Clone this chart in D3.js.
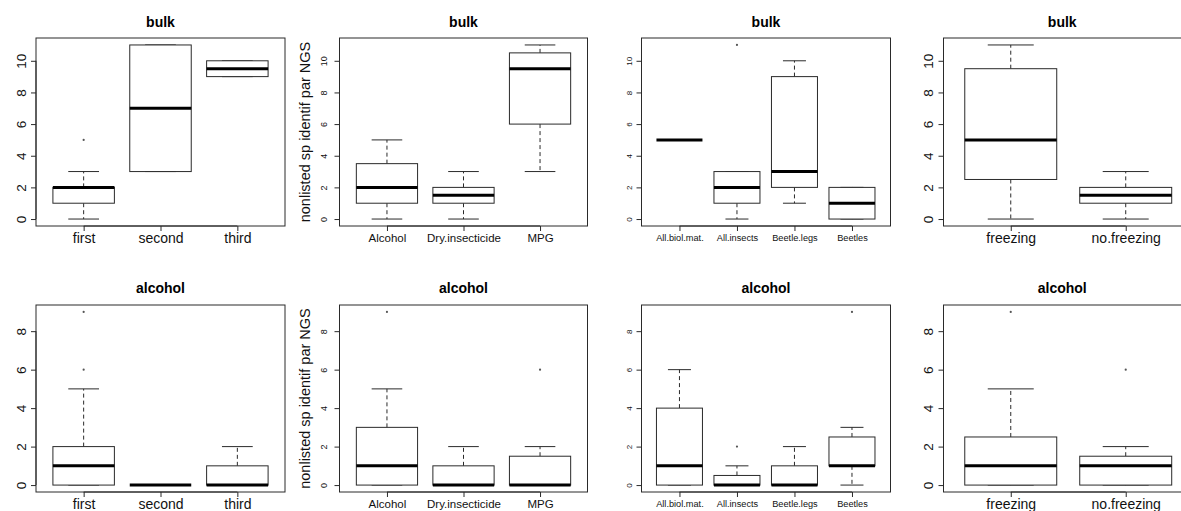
<!DOCTYPE html>
<html>
<head>
<meta charset="utf-8">
<script src="https://cdn.jsdelivr.net/npm/d3@7"></script>
<style>
  html, body { margin: 0; padding: 0; background: #fff; }
  svg { display: block; font-family: "Liberation Sans", Arial, sans-serif; }
</style>
</head>
<body>
<svg id="chart" width="1181" height="511"></svg>
<script>
// ---------------- data ----------------
const rowTitles = ["bulk", "alcohol"];
const yLabel = "nonlisted sp identif par NGS";

const catsRound  = ["first", "second", "third"];
const catsFix    = ["Alcohol", "Dry.insecticide", "MPG"];
const catsSample = ["All.biol.mat.", "All.insects", "Beetle.legs", "Beetles"];
const catsFreeze = ["freezing", "no.freezing"];

const yTicksBulk    = [0, 2, 4, 6, 8, 10];
const yTicksAlcohol = [0, 2, 4, 6, 8];

// five-number summaries: [lower whisker, Q1, median, Q3, upper whisker]
const bulkRound      = [[0, 1, 2, 2, 3], [3, 3, 7, 11, 11], [9, 9, 9.5, 10, 10]];
const bulkRoundOut   = [[5], [], []];
const bulkFix        = [[0, 1, 2, 3.5, 5], [0, 1, 1.5, 2, 3], [3, 6, 9.5, 10.5, 11]];
const bulkFixOut     = [[], [], []];
const bulkSample     = [[5, 5, 5, 5, 5], [0, 1, 2, 3, 3], [1, 2, 3, 9, 10], [0, 0, 1, 2, 2]];
const bulkSampleOut  = [[], [11], [], []];
const bulkFreeze     = [[0, 2.5, 5, 9.5, 11], [0, 1, 1.5, 2, 3]];
const bulkFreezeOut  = [[], []];

const alcRound       = [[0, 0, 1, 2, 5], [0, 0, 0, 0, 0], [0, 0, 0, 1, 2]];
const alcRoundOut    = [[6, 9], [], []];
const alcFix         = [[0, 0, 1, 3, 5], [0, 0, 0, 1, 2], [0, 0, 0, 1.5, 2]];
const alcFixOut      = [[9], [], [6]];
const alcSample      = [[0, 0, 1, 4, 6], [0, 0, 0, 0.5, 1], [0, 0, 0, 1, 2], [0, 1, 1, 2.5, 3]];
const alcSampleOut   = [[], [2], [], [9]];
const alcFreeze      = [[0, 0, 1, 2.5, 5], [0, 0, 1, 1.5, 2]];
const alcFreezeOut   = [[9], [6]];

// ---------------- layout ----------------
const colLayout = [
  { left: 36,    right: 285,   padL: 0.62, padR: 0.62, tickFs: 13.5, catFs: 14,   tickOff: -14.5, ylab: false },
  { left: 339.5, right: 587.5, padL: 0.62, padR: 0.62, tickFs: 9,    catFs: 11.5, tickOff: -16,   ylab: true  },
  { left: 641.5, right: 890.5, padL: 0.66, padR: 0.67, tickFs: 8,    catFs: 9.2,  tickOff: -12,   ylab: false },
  { left: 943.5, right: 1197,  padL: 0.585,padR: 0.62, tickFs: 13.5, catFs: 14,   tickOff: -15,   ylab: false, titleRight: 1181 }
];
const rowLayout = [
  { top: 38,  bottom: 226, titleY: 27,  labY: 237.5, ticks: yTicksBulk },
  { top: 305, bottom: 492, titleY: 293, labY: 503.5, ticks: yTicksAlcohol }
];

const panels = [
  [ [catsRound, bulkRound, bulkRoundOut], [catsFix, bulkFix, bulkFixOut],
    [catsSample, bulkSample, bulkSampleOut], [catsFreeze, bulkFreeze, bulkFreezeOut] ],
  [ [catsRound, alcRound, alcRoundOut], [catsFix, alcFix, alcFixOut],
    [catsSample, alcSample, alcSampleOut], [catsFreeze, alcFreeze, alcFreezeOut] ]
];

const svg = d3.select("#chart");
const lineCol = "#2a2a2a";

panels.forEach((row, ri) => {
  const R = rowLayout[ri];
  // y range shared by row: data range extended by 4%
  let allVals = [];
  row.forEach(([cats, stats, outs]) => {
    stats.forEach(s => allVals.push(...s));
    outs.forEach(o => allVals.push(...o));
  });
  const lo = d3.min(allVals), hi = d3.max(allVals);
  const ext = (hi - lo) * 0.04;

  row.forEach(([cats, stats, outs], ci) => {
    const C = colLayout[ci];
    const n = cats.length;
    const x = d3.scaleLinear().domain([1 - C.padL, n + C.padR]).range([C.left, C.right]);
    const y = d3.scaleLinear().domain([lo - ext, hi + ext]).range([R.bottom, R.top]);
    const g = svg.append("g");
    const bw = (x(2) - x(1)) * 0.8;

    // y axis
    const ya = g.append("g")
      .attr("transform", `translate(${C.left},0)`)
      .call(d3.axisLeft(y).tickValues(R.ticks).tickSize(5).tickSizeOuter(0).tickFormat(d3.format("d")));
    ya.select(".domain").attr("stroke", lineCol)
      .attr("d", `M0,${y(R.ticks[0])}V${y(R.ticks[R.ticks.length - 1])}`);
    ya.selectAll(".tick line").attr("stroke", lineCol);
    ya.selectAll(".tick text")
      .attr("x", null).attr("y", null)
      .attr("text-anchor", "middle")
      .attr("dy", "0.36em")
      .attr("transform", `translate(${C.tickOff},0) rotate(-90)`)
      .attr("font-size", C.tickFs)
      .attr("font-family", "Liberation Sans, Arial, sans-serif")
      .attr("fill", "#111");

    // x axis
    const xa = g.append("g")
      .attr("transform", `translate(0,${R.bottom})`)
      .call(d3.axisBottom(x).tickValues(d3.range(1, n + 1)).tickSize(5).tickSizeOuter(0)
        .tickFormat(d => cats[d - 1]));
    xa.select(".domain").attr("stroke", lineCol)
      .attr("d", `M${x(1)},0H${x(n)}`);
    xa.selectAll(".tick line").attr("stroke", lineCol);
    xa.selectAll(".tick text")
      .attr("y", R.labY - R.bottom)
      .attr("dy", "0.36em")
      .attr("font-size", C.catFs)
      .attr("font-family", "Liberation Sans, Arial, sans-serif")
      .attr("fill", "#111");

    // frame
    g.append("rect")
      .attr("x", C.left).attr("y", R.top)
      .attr("width", C.right - C.left).attr("height", R.bottom - R.top)
      .attr("fill", "none").attr("stroke", lineCol).attr("stroke-width", 1);

    // boxes
    stats.forEach((s, i) => {
      const cx = x(i + 1);
      const [wl, q1, md, q3, wh] = s;
      const bg = g.append("g");
      // whiskers (dashed)
      bg.append("line").attr("x1", cx).attr("x2", cx).attr("y1", y(q3)).attr("y2", y(wh))
        .attr("stroke", lineCol).attr("stroke-dasharray", "4,3");
      bg.append("line").attr("x1", cx).attr("x2", cx).attr("y1", y(q1)).attr("y2", y(wl))
        .attr("stroke", lineCol).attr("stroke-dasharray", "4,3");
      // staples
      [wl, wh].forEach(v => {
        bg.append("line").attr("x1", cx - bw / 4).attr("x2", cx + bw / 4)
          .attr("y1", y(v)).attr("y2", y(v)).attr("stroke", lineCol);
      });
      // box
      bg.append("rect").attr("x", cx - bw / 2).attr("width", bw)
        .attr("y", y(q3)).attr("height", Math.max(0, y(q1) - y(q3)))
        .attr("fill", "#fff").attr("stroke", lineCol);
      // median
      bg.append("line").attr("x1", cx - bw / 2).attr("x2", cx + bw / 2)
        .attr("y1", y(md)).attr("y2", y(md)).attr("stroke", "#000").attr("stroke-width", 3);
      // outliers
      outs[i].forEach(v => {
        bg.append("circle").attr("cx", cx).attr("cy", y(v)).attr("r", 1.1).attr("fill", "#555");
      });
    });

    // title
    const tr = C.titleRight !== undefined ? Math.min(C.right, C.titleRight) : C.right;
    g.append("text")
      .attr("x", (C.left + tr) / 2).attr("y", R.titleY)
      .attr("text-anchor", "middle").attr("font-weight", "bold").attr("font-size", 14)
      .attr("fill", "#000")
      .text(rowTitles[ri]);

    // y label
    if (C.ylab) {
      g.append("text")
        .attr("transform", `translate(${C.left - 34.5},${(R.top + R.bottom) / 2}) rotate(-90)`)
        .attr("text-anchor", "middle").attr("dy", "0.36em")
        .attr("font-size", 14.5).attr("fill", "#111")
        .text(yLabel);
    }
  });
});
</script>
</body>
</html>
